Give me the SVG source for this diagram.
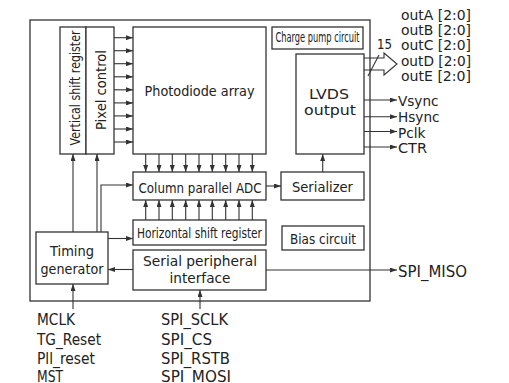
<svg xmlns="http://www.w3.org/2000/svg" width="509" height="383" viewBox="0 0 509 383">
<defs>
<marker id="ah" markerUnits="userSpaceOnUse" viewBox="0 0 7 5" markerWidth="7" markerHeight="5" refX="7" refY="2.5" orient="auto">
<path d="M0,0 L7,2.5 L0,5 z" fill="#333"/>
</marker>
<style>
.b{fill:#fff;stroke:#333;stroke-width:1.3}
.t{font-family:"DejaVu Sans","Noto Sans",sans-serif;fill:#222;font-size:14px}
.m{text-anchor:middle}
.c{fill:none;stroke:#333;stroke-width:1.1}
.a{marker-end:url(#ah)}
</style>
</defs>
<rect width="509" height="383" fill="#fff"/>
<g id="chip"><rect class="b" x="30" y="20" width="340" height="281" stroke-width="1.6"/></g>
<g id="vsr"><rect class="b" x="60" y="27" width="26" height="127"/><text class="t m" transform="translate(79.5,88) rotate(-90)" font-size="13" textLength="115" lengthAdjust="spacingAndGlyphs">Vertical shift register</text></g>
<g id="pixel"><rect class="b" x="86" y="27" width="28" height="127"/><text class="t m" transform="translate(105.5,90) rotate(-90)" font-size="15" textLength="80" lengthAdjust="spacingAndGlyphs">Pixel control</text></g>
<g id="pda"><rect class="b" x="133" y="27" width="133" height="127"/><text class="t m" x="199.5" y="95.5" font-size="14.5" textLength="110" lengthAdjust="spacingAndGlyphs">Photodiode array</text></g>
<g id="charge"><rect class="b" x="272" y="27" width="91" height="22"/><text class="t m" x="317.5" y="42" font-size="12.5" textLength="84" lengthAdjust="spacingAndGlyphs">Charge pump circuit</text></g>
<g id="lvds"><rect class="b" x="296" y="54" width="68" height="100"/><text class="t m" x="329" y="99" font-size="15" textLength="40" lengthAdjust="spacingAndGlyphs">LVDS</text><text class="t m" x="330" y="115" font-size="15" textLength="52" lengthAdjust="spacingAndGlyphs">output</text></g>
<g id="adc"><rect class="b" x="133" y="172" width="133" height="28"/><text class="t m" x="200" y="192.5" font-size="14.5" textLength="123" lengthAdjust="spacingAndGlyphs">Column parallel ADC</text></g>
<g id="ser"><rect class="b" x="281" y="172" width="83" height="28"/><text class="t m" x="322.5" y="191.5" font-size="14.5" textLength="61" lengthAdjust="spacingAndGlyphs">Serializer</text></g>
<g id="hsr"><rect class="b" x="133" y="220" width="133" height="25"/><text class="t m" x="199.5" y="237.5" font-size="13.5" textLength="125" lengthAdjust="spacingAndGlyphs">Horizontal shift register</text></g>
<g id="bias"><rect class="b" x="282" y="226" width="82" height="24"/><text class="t m" x="323" y="243.5" font-size="14.5" textLength="66" lengthAdjust="spacingAndGlyphs">Bias circuit</text></g>
<g id="spi"><rect class="b" x="133" y="250" width="133" height="40"/><text class="t m" x="200" y="266" font-size="15" textLength="114" lengthAdjust="spacingAndGlyphs">Serial peripheral</text><text class="t m" x="200" y="283" font-size="15" textLength="61" lengthAdjust="spacingAndGlyphs">interface</text></g>
<g id="tg"><rect class="b" x="36" y="232" width="72" height="52"/><text class="t m" x="72" y="256" font-size="15" textLength="44" lengthAdjust="spacingAndGlyphs">Timing</text><text class="t m" x="72" y="274" font-size="15" textLength="63" lengthAdjust="spacingAndGlyphs">generator</text></g>
<g id="connectors">
<path class="c a" d="M114,37.7H133"/><path class="c a" d="M114,50.7H133"/><path class="c a" d="M114,63.7H133"/><path class="c a" d="M114,76.8H133"/><path class="c a" d="M114,89.8H133"/><path class="c a" d="M114,102.9H133"/><path class="c a" d="M114,115.9H133"/><path class="c a" d="M114,129H133"/><path class="c a" d="M114,142H133"/>
<path class="c a" d="M145.7,154V172"/><path class="c a" d="M159,154V172"/><path class="c a" d="M172.3,154V172"/><path class="c a" d="M185.7,154V172"/><path class="c a" d="M199,154V172"/><path class="c a" d="M212.3,154V172"/><path class="c a" d="M225.7,154V172"/><path class="c a" d="M239,154V172"/><path class="c a" d="M252.3,154V172"/>
<path class="c a" d="M145.7,220V200"/><path class="c a" d="M159,220V200"/><path class="c a" d="M172.3,220V200"/><path class="c a" d="M185.7,220V200"/><path class="c a" d="M199,220V200"/><path class="c a" d="M212.3,220V200"/><path class="c a" d="M225.7,220V200"/><path class="c a" d="M239,220V200"/><path class="c a" d="M252.3,220V200"/>
<path class="c a" d="M266,186H281"/>
<path class="c a" d="M322.7,172V154"/>
<path class="c a" d="M101,232V185H133"/>
<path class="c a" d="M73,232V154"/>
<path class="c a" d="M97,232V154"/>
<path class="c a" d="M108,238.5H133"/>
<path class="c a" d="M133,269.5H108"/>
<path class="c a" d="M73,309V284"/>
<path class="c a" d="M200,309V290"/>
<path class="c a" d="M266,270H397"/>
<path class="c a" d="M364,100H397"/><path class="c a" d="M364,116.7H397"/><path class="c a" d="M364,131.5H397"/><path class="c a" d="M364,147H397"/>
<path class="c" d="M364,58H384V53L397,64L384,75V70H364"/>
<path class="c" d="M368,76L379,55"/>
</g>
<g id="labels" class="t" font-size="14.5">
<text x="377" y="49" textLength="15" lengthAdjust="spacingAndGlyphs">15</text>
<text x="401" y="20" textLength="70" lengthAdjust="spacingAndGlyphs">outA [2:0]</text>
<text x="401" y="35" textLength="70" lengthAdjust="spacingAndGlyphs">outB [2:0]</text>
<text x="401" y="50" textLength="70" lengthAdjust="spacingAndGlyphs">outC [2:0]</text>
<text x="401" y="66" textLength="70" lengthAdjust="spacingAndGlyphs">outD [2:0]</text>
<text x="401" y="81" textLength="70" lengthAdjust="spacingAndGlyphs">outE [2:0]</text>
<text x="398" y="106" textLength="40.5" lengthAdjust="spacingAndGlyphs">Vsync</text>
<text x="398" y="122" textLength="41.5" lengthAdjust="spacingAndGlyphs">Hsync</text>
<text x="398" y="137.5" textLength="27.5" lengthAdjust="spacingAndGlyphs">Pclk</text>
<text x="398" y="153" textLength="29" lengthAdjust="spacingAndGlyphs">CTR</text>
<text x="398" y="276.5" font-size="15" textLength="69" lengthAdjust="spacingAndGlyphs">SPI_MISO</text>
<text x="37" y="325" font-size="15.5" textLength="38" lengthAdjust="spacingAndGlyphs">MCLK</text>
<text x="37" y="344.5" font-size="15.5" textLength="64" lengthAdjust="spacingAndGlyphs">TG_Reset</text>
<text x="37" y="363.5" font-size="15.5" textLength="58" lengthAdjust="spacingAndGlyphs">Pll_reset</text>
<text x="37" y="381.5" font-size="15.5" textLength="26" lengthAdjust="spacingAndGlyphs">MST</text>
<text x="161" y="325" font-size="15.5" textLength="67" lengthAdjust="spacingAndGlyphs">SPI_SCLK</text>
<text x="161" y="344.5" font-size="15.5" textLength="51" lengthAdjust="spacingAndGlyphs">SPI_CS</text>
<text x="161" y="363.5" font-size="15.5" textLength="69" lengthAdjust="spacingAndGlyphs">SPI_RSTB</text>
<text x="161" y="381.5" font-size="15.5" textLength="70" lengthAdjust="spacingAndGlyphs">SPI_MOSI</text>
</g>
</svg>
